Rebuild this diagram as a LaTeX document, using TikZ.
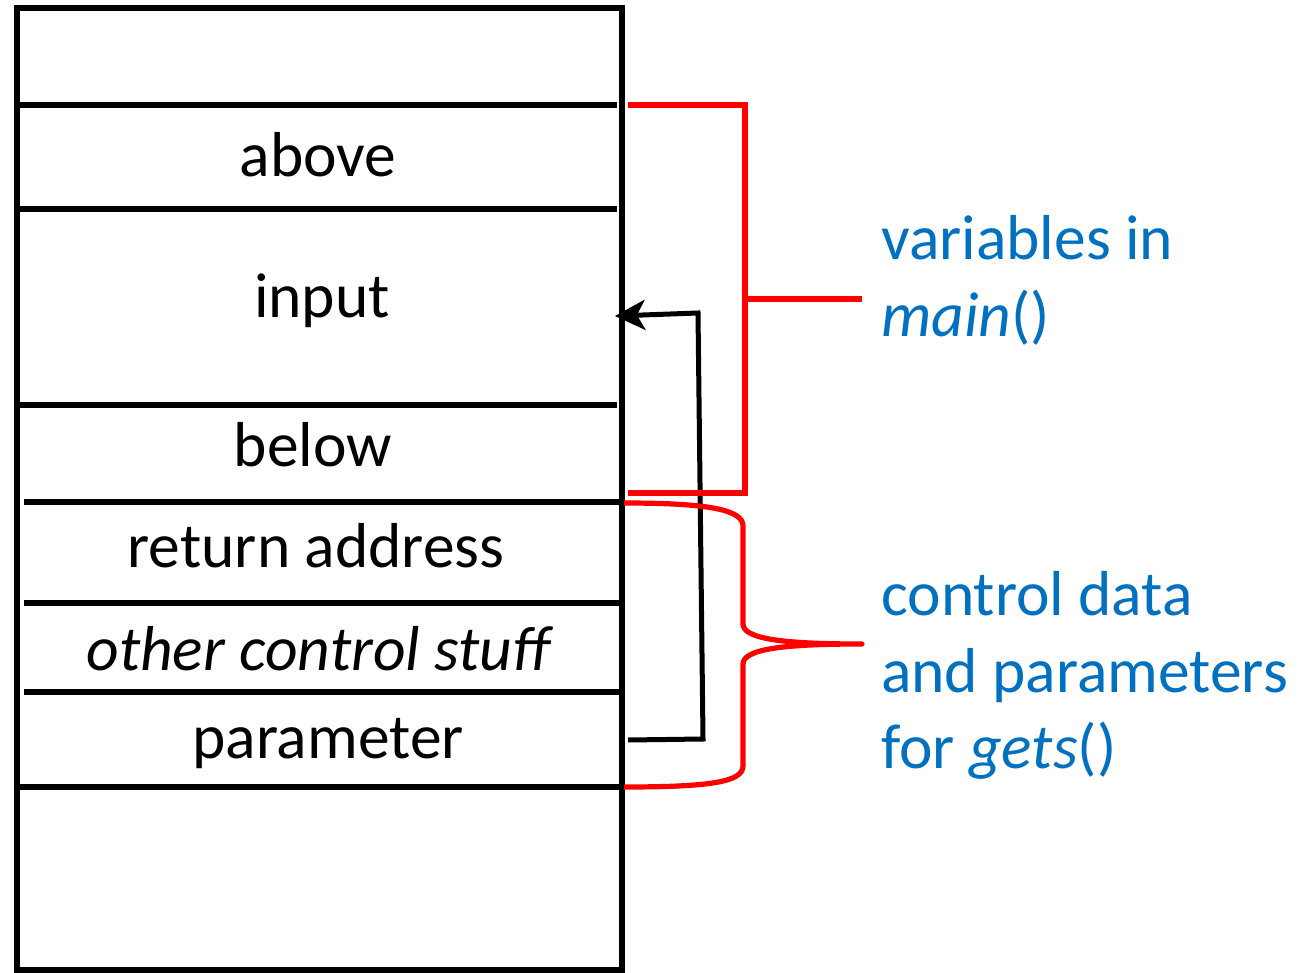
\documentclass[tikz,border=0pt]{standalone}
\usepackage{fontspec}
\setmainfont{Carlito}
\usetikzlibrary{arrows.meta}
\definecolor{offblue}{RGB}{0,112,192}
\definecolor{brred}{RGB}{255,0,0}
\tikzset{
  lab/.style={font=\fontsize{63.5}{76}\selectfont, inner sep=0pt, anchor=base},
  blu/.style={font=\fontsize{63.5}{76}\selectfont, text=offblue, inner sep=0pt, anchor=base west},
  frame/.style={line width=5.6pt, black},
  sep/.style={line width=5.2pt, black},
  brk/.style={line width=5.2pt, brred},
  ptr/.style={line width=5pt, black, -{Stealth[length=30pt,width=30pt,inset=8pt]}},
}
\begin{document}
\begin{tikzpicture}[x=1pt,y=-1pt]
\useasboundingbox (0,0) rectangle (1309,973);
\fill[white] (0,0) rectangle (1309,973);
% stack
\draw[frame] (17,8) rectangle (622,970);
\draw[sep] (18,105) -- (617,105);
\draw[sep] (18,209) -- (617,209);
\draw[sep] (18,405) -- (617,405);
\draw[sep] (24,502) -- (622,502);
\draw[sep] (24,603) -- (622,603);
\draw[sep] (24,692) -- (622,692);
\draw[sep] (20,787) -- (622,787);
% labels
\node[lab] (above) at (318,177) {above};
\node[lab] (input) at (322,318) {input};
\node[lab] (below) at (313,466) {below};
\node[lab] (ret) at (316,567) {return address};
\node[lab] (other) at (318,670) {\itshape other control stuff};
\node[lab] (param) at (328,758) {parameter};
% pointer
\coordinate (pfrom) at (628,740);
\coordinate (pc1) at (703,739);
\coordinate (pc2) at (698,313);
\coordinate (pto) at (615,316);
\draw[ptr] (pfrom) -- (pc1) -- (pc2) -- (pto);
% red square bracket
\coordinate (b1a) at (628,105);
\coordinate (b1b) at (745,105);
\coordinate (b1c) at (745,493);
\coordinate (b1d) at (628,493);
\coordinate (b1m) at (745,299);
\coordinate (b1t) at (862,299);
\draw[brk] (b1a) -- (b1b) -- (b1c) -- (b1d);
\draw[brk] (b1m) -- (b1t);
% red brace
\coordinate (b2a) at (624,503);
\coordinate (b2tip) at (862,644);
\coordinate (b2z) at (624,787);
\draw[brk, line join=round] (b2a) .. controls (710,503) and (743,510) .. (743,526)
  -- (743,624) .. controls (743,640) and (790,644) .. (b2tip)
  .. controls (790,644) and (743,648) .. (743,664)
  -- (743,766) .. controls (743,782) and (710,787) .. (b2z);
% blue notes
\node[blu] (v1) at (881,260) {variables in};
\node[blu] (v2) at (881,337) {\itshape main\upshape()};
\node[blu] (c1) at (881,615) {control data};
\node[blu] (c2) at (881,692) {and parameters};
\node[blu] (c3) at (881,768) {for \itshape gets\upshape()};
\end{tikzpicture}
\end{document}
